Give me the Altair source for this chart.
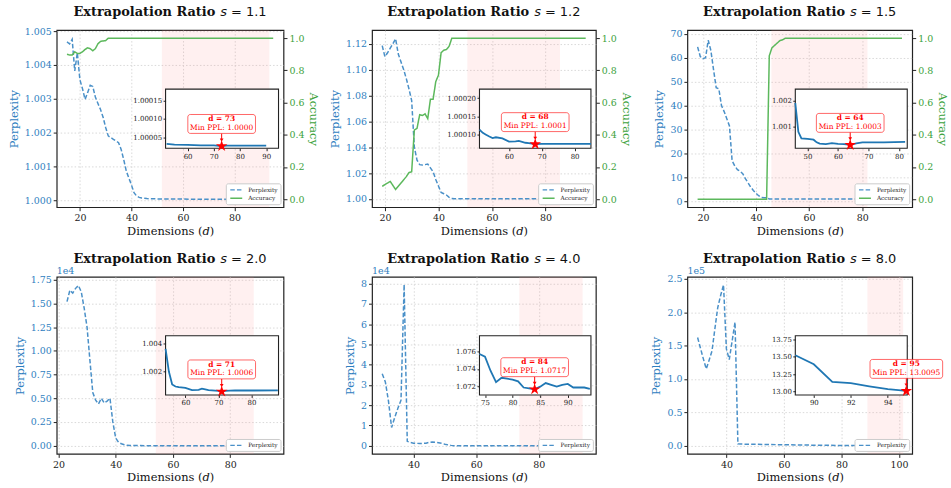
import altair as alt
import pandas as pd

# ---------------- data ----------------
s_labels = ["1.1", "1.2", "1.5", "2.0", "4.0", "8.0"]

# s = 1.1
dims_s11 = [15,16,17,18,19,20,21,22,23,24,25,26,27,28,29,30,31,32,33,34,35,36,37,38,39,40,41,42,43,44,
            46,50,52,55,60,65,70,73,75,80,85,90,95]
ppl_s11 = [1.00468,1.00462,1.00476,1.00382,1.00436,1.00356,1.00330,1.00298,1.00318,1.00340,
           1.00336,1.00305,1.00286,1.00268,1.00245,1.00215,1.00190,1.00185,1.00180,1.00175,
           1.00170,1.00150,1.00120,1.00086,1.00065,1.00045,1.00022,1.00012,1.00008,1.00006,
           1.000045,1.000036,1.000032,1.000030,1.000029,1.000028,1.000028,1.000026,1.000027,
           1.000027,1.000027,1.000027,1.000027]
acc_dims_s11 = [15,16,17,18,19,20,21,22,23,24,25,26,27,28,29,30,31,95]
acc_s11 = [0.90,0.895,0.895,0.915,0.905,0.905,0.915,0.93,0.94,0.935,0.922,0.935,0.965,0.98,0.983,0.985,1.0,1.0]

# s = 1.2
dims_s12 = [19,20,21,22,23,24,25,26,27,28,29,30,31,32,33,34,35,36,37,38,39,40,41,42,43,44,45,46,
            48,50,51,52,53,54,55,56,58,60,62,63,65,66,68,70,75,80,85,90,95]
ppl_s12 = [1.1185,1.1100,1.1130,1.1165,1.1200,1.1238,1.1120,1.1060,1.1000,1.0930,
           1.0850,1.0760,1.0400,1.0300,1.0265,1.0262,1.0265,1.0270,1.0240,1.0210,
           1.0150,1.0100,1.0050,1.0040,1.0030,1.0012,1.0003,1.00020,
           1.00015,1.00012,1.000114,1.000105,1.000100,1.000095,1.000091,1.000093,1.000090,
           1.000081,1.000082,1.000083,1.000078,1.000077,1.000074,1.000075,1.000075,1.000075,
           1.000075,1.000075,1.000075]
acc_dims_s12 = [19,20,21,22,23,24,25,26,27,28,29,30,31,32,33,34,35,36,37,38,39,40,41,42,43,44,45,95]
acc_s12 = [0.08,0.09,0.10,0.11,0.085,0.06,0.08,0.10,0.12,0.14,0.165,0.17,0.43,0.44,0.525,0.52,
           0.53,0.50,0.62,0.62,0.73,0.77,0.91,0.925,0.93,0.95,1.0,1.0]

# s = 1.5
dims_s15 = [18,19,20,21,22,23,24,25,26,27,28,29,30,31,32,33,34,35,36,37,38,39,40,41,42,43,44,45,46,47,48,
            50,52,53,54,56,58,60,62,64,66,68,75,82,90,95]
ppl_s15 = [64.5,60.5,59.6,60.0,67.3,63.0,55.0,47.5,47.0,40.0,37.5,34.5,31.5,17.0,14.8,13.3,12.6,11.6,
           9.5,7.8,6.0,4.6,3.4,2.4,1.7,1.5,1.6,1.02,1.0019,1.0008,1.00055,
           1.00053,1.00050,1.00040,1.00035,1.00033,1.00037,1.00034,1.00033,1.00030,1.00036,1.00040,
           1.00040,1.00042,1.00043,1.00043]
acc_dims_s15 = [18,44,45,46,47,48,49,50,51,95]
acc_s15 = [0.0,0.0,0.89,0.94,0.955,0.97,0.985,0.99,1.0,1.0]

# s = 2.0
dims_s20 = [23,24,25,26,27,28,29,30,31,32,33,34,35,36,37,38,39,40,41,42,43,44,45,
            50,54,55,56,57,58,60,62,64,65,66,67,68,70,71,72,75,80,88,95]
ppl_s20 = [15200,16400,16100,16600,16900,16200,14500,12500,9000,5600,4800,4400,5000,4500,4700,5000,
           2500,800,350,200,100,30,10,
           2.0,1.0036,1.0020,1.0011,1.00095,1.0009,1.00085,1.0007,1.00072,1.0008,1.00075,1.0007,
           1.00068,1.00065,1.0006,1.00065,1.00068,1.00067,1.00068,1.0007]

# s = 4.0
dims_s40 = [30,31,32,33,34,35,36,37,38,39,40,41,42,43,44,45,46,47,48,49,50,51,52,53,
            55,60,65,70,73,
            74,75,76,77,78,79,80,81,82,83,84,85,86,87,88,89,90,91,92,93,94,95]
ppl_s40 = [35500,31500,22000,9000,14000,18500,22500,79500,2200,1600,1300,1200,1150,1150,1300,1700,
           1900,1750,1500,1200,800,450,200,60,
           10,2.0,1.2,1.09,1.078,
           1.0757,1.0754,1.0738,1.0725,1.0730,1.0729,1.0728,1.0726,1.0719,1.0718,1.0717,1.0720,
           1.0724,1.0722,1.0720,1.0722,1.0723,1.0719,1.0719,1.0719,1.07175,1.0718]

# s = 8.0
dims_s80 = [30,31,32,33,34,35,36,37,38,39,40,41,42,43,44,45,
            50,60,70,80,85,88,89,90,91,92,93,94,95,96,98,101]
ppl_s80 = [162000,146000,130000,115000,128000,142000,175000,207000,225000,241000,145000,129000,
           157000,185000,2600,2300,
           2000,1300,700,250,80,15,13.52,13.39,13.14,13.12,13.075,13.035,13.0095,13.03,13.05,13.06]

# ---------------- style ----------------
SERIF = "DejaVu Serif"
SANS = "DejaVu Sans"
PPL_LINE = "#4a90c8"
PPL_TEXT = "#2f80c0"
ACC_LINE = "#5cb85c"
ACC_TEXT = "#3ca23c"
INSET_LINE = "#1f77b4"
RED = "#ff0000"
DARK = "#222222"
GRID = "#cfcfcf"
STAR = ("M0,-1L0.2245,-0.309L0.9511,-0.309L0.3633,0.118L0.5878,0.809L0,0.382"
        "L-0.5878,0.809L-0.3633,0.118L-0.9511,-0.309L-0.2245,-0.309Z")
H = 178

panels = [
    dict(s=s_labels[0], W=228, dims=dims_s11, ppl=ppl_s11, acc_dims=acc_dims_s11, acc=acc_s11,
         xdom=[11, 99], xticks=[20, 40, 60, 80], ydom=[0.99979, 1.00503],
         yticks=[1.000, 1.001, 1.002, 1.003, 1.004, 1.005], ylab="format(datum.value, '.3f')", exp=None,
         shade=[51.8, 93.5], ixdom=[51.6, 94.7], iydom=[1.00002, 1.000181],
         ixticks=[60, 70, 80, 90], iyticks=[1.00005, 1.00010, 1.00015], iyfmt=".5f", box=34),
    dict(s=s_labels[1], W=225, dims=dims_s12, ppl=ppl_s12, acc_dims=acc_dims_s12, acc=acc_s12,
         xdom=[15.2, 98.8], xticks=[20, 40, 60, 80], ydom=[0.9936, 1.1305],
         yticks=[1.00, 1.02, 1.04, 1.06, 1.08, 1.10, 1.12], ylab="format(datum.value, '.2f')", exp=None,
         shade=[50.8, 85.4], ixdom=[51, 85], iydom=[1.000063, 1.000225],
         ixticks=[60, 70, 80], iyticks=[1.00010, 1.00015, 1.00020], iyfmt=".5f", box=34),
    dict(s=s_labels[2], W=226, dims=dims_s15, ppl=ppl_s15, acc_dims=acc_dims_s15, acc=acc_s15,
         xdom=[14.15, 98.85], xticks=[20, 40, 60, 80], ydom=[-2.4, 71.5],
         yticks=[0, 10, 20, 30, 40, 50, 60, 70], ylab="format(datum.value, 'd')", exp=None,
         shade=[45.8, 82.0], ixdom=[46, 82.7], iydom=[1.000175, 1.00243],
         ixticks=[50, 60, 70, 80], iyticks=[1.001, 1.002], iyfmt=".3f", box=34),
    dict(s=s_labels[3], W=228, dims=dims_s20, ppl=ppl_s20, acc_dims=None, acc=None,
         xdom=[19.4, 98.6], xticks=[20, 40, 60, 80], ydom=[-870, 17815],
         yticks=[0, 2500, 5000, 7500, 10000, 12500, 15000, 17500],
         ylab="format(datum.value / 1e4, '.2f')", exp="1e4",
         shade=[54.0, 88.2], ixdom=[54, 88.2], iydom=[1.00036, 1.00451],
         ixticks=[60, 70, 80], iyticks=[1.002, 1.004], iyfmt=".3f", box=34),
    dict(s=s_labels[4], W=225, dims=dims_s40, ppl=ppl_s40, acc_dims=None, acc=None,
         xdom=[26.75, 98.25], xticks=[40, 60, 80], ydom=[-4000, 83300],
         yticks=[0, 10000, 20000, 30000, 40000, 50000, 60000, 70000, 80000],
         ylab="format(datum.value / 1e4, 'd')", exp="1e4",
         shade=[73.8, 94.0], ixdom=[74, 94.2], iydom=[1.07106, 1.07776],
         ixticks=[75, 80, 85, 90], iyticks=[1.072, 1.074, 1.076], iyfmt=".3f", box=34),
    dict(s=s_labels[5], W=226, dims=dims_s80, ppl=ppl_s80, acc_dims=None, acc=None,
         xdom=[26.45, 104.55], xticks=[40, 60, 80, 100], ydom=[-12400, 253000],
         yticks=[0, 50000, 100000, 150000, 200000, 250000],
         ylab="format(datum.value / 1e5, '.1f')", exp="1e5",
         shade=[89.0, 101.4], ixdom=[89, 95.05], iydom=[12.953, 13.797],
         ixticks=[90, 92, 94], iyticks=[13.00, 13.25, 13.50, 13.75], iyfmt=".2f", box=36.5),
]


def build(p):
    W = p["W"]
    ix0, ix1 = 0.48 * W, 0.978 * W
    iy0, iy1 = 0.333 * H, 0.667 * H
    has_acc = p["acc"] is not None

    ppl_df = pd.DataFrame({"d": p["dims"], "ppl": p["ppl"]})
    ppl_df["series"] = "Perplexity"

    series_dom = ["Perplexity", "Accuracy"] if has_acc else ["Perplexity"]
    colors = [PPL_LINE, ACC_LINE][:len(series_dom)]
    dashes = [[4.5, 2.2], [1, 0]][:len(series_dom)]
    leg = alt.Legend(title=None, orient="bottom-right", offset=3, padding=2.5, fillColor="white",
                     strokeColor="#cccccc", cornerRadius=2, labelFont=SERIF, labelFontSize=5.8,
                     labelColor=DARK, symbolType="M-2,0L2,0", symbolSize=36,
                     symbolStrokeWidth=1.3, symbolOffset=4, rowPadding=1.5, labelOffset=8)
    color = alt.Color("series:N", scale=alt.Scale(domain=series_dom, range=colors), legend=leg)
    dash = alt.StrokeDash("series:N", scale=alt.Scale(domain=series_dom, range=dashes), legend=leg)

    x_axis = alt.Axis(values=p["xticks"], title="Dimensions (𝑑)", orient="bottom", grid=True,
                      gridColor=GRID, gridDash=[1.5, 2], gridWidth=0.8, domain=False,
                      labelFont=SERIF, labelFontSize=9.5, labelColor=DARK, tickColor=DARK,
                      tickSize=3.5, labelPadding=2, titleFont=SERIF, titleFontSize=11.5,
                      titleFontWeight="normal", titleColor="#111111", titlePadding=3)
    x_main = alt.X("d:Q", scale=alt.Scale(domain=p["xdom"], nice=False, zero=False), axis=x_axis)
    y_axis = alt.Axis(values=p["yticks"], labelExpr=p["ylab"], title="Perplexity", orient="left",
                      grid=True, gridColor=GRID, gridDash=[1.5, 2], gridWidth=0.8, domain=False,
                      labelFont=SERIF, labelFontSize=9.5, labelColor=PPL_TEXT, tickColor=DARK,
                      tickSize=3.5, labelPadding=2, titleFont=SERIF, titleFontSize=11.5,
                      titleFontWeight="normal", titleColor=PPL_TEXT, titlePadding=5)
    y_main = alt.Y("ppl:Q", scale=alt.Scale(domain=p["ydom"], nice=False, zero=False), axis=y_axis)

    shade_df = pd.DataFrame({"d": [p["shade"][0]], "d_end": [p["shade"][1]]})
    shade = alt.Chart(shade_df).mark_rect(color="#ff9999", opacity=0.15).encode(
        x=x_main, x2="d_end:Q", y=alt.value(0), y2=alt.value(H))
    ppl_line = alt.Chart(ppl_df).mark_line(strokeWidth=1.5).encode(
        x=x_main, y=y_main, color=color, strokeDash=dash)
    main_layers = [shade, ppl_line]
    if has_acc:
        acc_df = pd.DataFrame({"d": p["acc_dims"], "acc": p["acc"]})
        acc_df["series"] = "Accuracy"
        acc_axis = alt.Axis(values=[0, 0.2, 0.4, 0.6, 0.8, 1.0], format=".1f", title="Accuracy",
                            orient="right", grid=False, domain=False, labelFont=SERIF,
                            labelFontSize=9.5, labelColor=ACC_TEXT, tickColor=DARK, tickSize=3.5,
                            labelPadding=2, titleFont=SERIF, titleFontSize=11.5,
                            titleFontWeight="normal", titleColor=ACC_TEXT, titlePadding=4)
        acc_line = alt.Chart(acc_df).mark_line(strokeWidth=1.5).encode(
            x=x_main, y=alt.Y("acc:Q", scale=alt.Scale(domain=[-0.05, 1.05], nice=False, zero=False),
                              axis=acc_axis),
            color=color, strokeDash=dash)
        main_layers.append(acc_line)
    if p["exp"]:
        exp_txt = alt.Chart(pd.DataFrame({"t": [p["exp"]]})).mark_text(
            align="left", baseline="alphabetic", font=SERIF, fontSize=9.5, color=PPL_TEXT).encode(
            text="t:N", x=alt.value(0), y=alt.value(-3))
        main_layers.append(exp_txt)
    main = alt.layer(*main_layers).resolve_scale(y="independent")

    # ---------------- inset ----------------
    xi = alt.X("d:Q", scale=alt.Scale(domain=p["ixdom"], range=[ix0, ix1], nice=False, zero=False),
               axis=alt.Axis(orient="bottom", offset=-(H - iy1), values=p["ixticks"], title=None,
                             grid=False, domain=False, labelFont=SERIF, labelFontSize=7,
                             labelColor=DARK, tickColor=DARK, tickSize=2.5, labelPadding=1.5,
                             zindex=1))
    yi = alt.Y("ppl:Q", scale=alt.Scale(domain=p["iydom"], range=[iy1, iy0], nice=False, zero=False),
               axis=alt.Axis(orient="left", offset=-ix0, values=p["iyticks"], format=p["iyfmt"],
                             title=None, grid=False, domain=False, labelFont=SERIF, labelFontSize=7,
                             labelColor=DARK, tickColor=DARK, tickSize=2.5, labelPadding=1.5,
                             zindex=1))
    lo, hi = p["ixdom"]
    frame = alt.Chart(pd.DataFrame({"k": [0]})).mark_rect(
        fill="white", stroke=DARK, strokeWidth=1.1).encode(
        x=alt.value(ix0), x2=alt.value(ix1), y=alt.value(iy0), y2=alt.value(iy1))
    inset_line = alt.Chart(ppl_df).transform_filter(
        f"datum.d >= {lo} && datum.d <= {hi}").mark_line(
        color=INSET_LINE, strokeWidth=1.8).encode(x=xi, y=yi)

    i_min = min(range(len(p["ppl"])), key=lambda i: p["ppl"][i])
    best_d, best_v = p["dims"][i_min], p["ppl"][i_min]
    best_df = pd.DataFrame({"d": [best_d], "ppl": [best_v],
                            "l1": [f"d = {best_d}"], "l2": [f"Min PPL: {best_v:.4f}"]})
    bh = p["box"]
    box = alt.Chart(best_df).mark_rect(
        fill="white", fillOpacity=0.9, stroke=RED, strokeOpacity=0.6, strokeWidth=1,
        cornerRadius=2.5, xOffset=-bh, x2Offset=bh, yOffset=-31.7, y2Offset=-12.7).encode(
        x=xi, x2="d:Q", y=yi, y2="ppl:Q")
    arrow = alt.Chart(best_df).mark_rule(color=RED, strokeWidth=1, yOffset=-12.7, y2Offset=-7).encode(
        x=xi, y=yi, y2="ppl:Q")
    head = alt.Chart(best_df).mark_point(shape="triangle-down", filled=True, size=14, color=RED,
                                         opacity=1, yOffset=-6).encode(x=xi, y=yi)
    star = alt.Chart(best_df).mark_point(shape=STAR, filled=True, size=150, color=RED,
                                         opacity=1, strokeWidth=0).encode(x=xi, y=yi)
    t1 = alt.Chart(best_df).mark_text(font=SERIF, fontSize=7.5, fontWeight="bold", color=RED,
                                      dy=-27, baseline="middle").encode(x=xi, y=yi, text="l1:N")
    t2 = alt.Chart(best_df).mark_text(font=SERIF, fontSize=7.5, color=RED,
                                      dy=-18.3, baseline="middle").encode(x=xi, y=yi, text="l2:N")
    inset = alt.layer(frame, inset_line, arrow, head, star, box, t1, t2)

    # ---------------- title ----------------
    tdf = pd.DataFrame({"a": ["Extrapolation Ratio"], "b": ["s"], "c": [f"= {p['s']}"]})
    ta = alt.Chart(tdf).mark_text(align="right", baseline="alphabetic", font=SERIF, fontSize=13,
                                  fontWeight="bold", color="#111111").encode(
        text="a:N", x=alt.value(W / 2 + 45.5), y=alt.value(-14))
    tb = alt.Chart(tdf).mark_text(align="left", baseline="alphabetic", font=SANS, fontSize=13,
                                  fontStyle="italic", color="#111111").encode(
        text="b:N", x=alt.value(W / 2 + 50.5), y=alt.value(-14))
    tc = alt.Chart(tdf).mark_text(align="left", baseline="alphabetic", font=SANS, fontSize=13,
                                  color="#111111").encode(
        text="c:N", x=alt.value(W / 2 + 61.3), y=alt.value(-14))

    return alt.layer(main, inset, ta, tb, tc).resolve_scale(
        x="independent", y="independent").properties(width=W, height=H)


charts = [build(p) for p in panels]
chart = alt.concat(*charts, columns=3, spacing=alt.RowColnumber(row=70, column=89),
                   bounds="flush", align="all").resolve_scale(
    color="independent", strokeDash="independent").properties(
    padding={"left": 7, "top": 4, "right": 2, "bottom": 2}).configure_view(
    stroke="#222222", strokeWidth=1.2)

chart.save("out.html", embed_options={"renderer": "svg", "actions": False})
